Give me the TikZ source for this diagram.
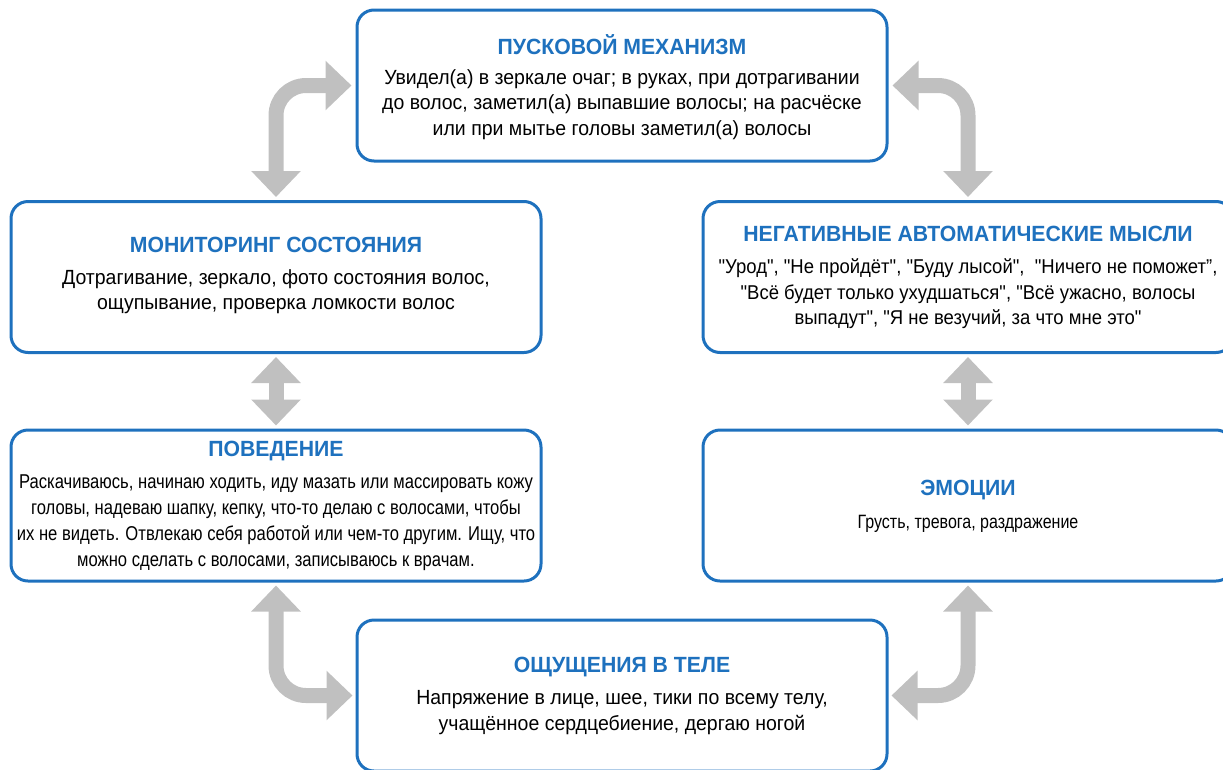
\documentclass[tikz,border=0pt]{standalone}
\usepackage{fontspec}
\setmainfont{Liberation Sans}[FakeStretch=0.95]
\newfontfamily\titlefont{Liberation Sans}[FakeStretch=0.965]
\newfontfamily\namfont{Liberation Sans}[FakeStretch=0.925]
\newfontfamily\condfont{Liberation Sans}[FakeStretch=0.83]
\usetikzlibrary{arrows.meta}
\definecolor{bblue}{RGB}{30,113,190}
\definecolor{agray}{RGB}{192,192,192}
\tikzset{
  box/.style={draw=bblue,line width=3pt,rounded corners=17pt,minimum width=530pt,minimum height=151pt,inner sep=0pt,fill=white},
  boxtitle/.style={text=bblue,font=\titlefont\fontsize{22}{26}\selectfont\bfseries,inner sep=0pt},
  boxtext/.style={text=black,font=\fontsize{20.5}{25.5}\selectfont,align=center,inner sep=0pt,anchor=north},
  namtextstyle/.style={text=black,font=\namfont\fontsize{20}{25.5}\selectfont,align=center,inner sep=0pt,anchor=north},
  emotextstyle/.style={text=black,font=\condfont\fontsize{19.3}{25.5}\selectfont,align=center,inner sep=0pt,anchor=north},
  condtext/.style={text=black,font=\condfont\fontsize{20}{26}\selectfont,align=center,inner sep=0pt,anchor=north},
  garrow/.style={draw=agray,line width=15pt,rounded corners=30pt,
    {Triangle[width=48pt,length=26pt]}-{Triangle[width=48pt,length=26pt]}}
}
\begin{document}
\begin{tikzpicture}[x=1pt,y=-1pt]
\useasboundingbox (0,0) rectangle (1223,769);
\clip (0,0) rectangle (1223,769);
% boxes
\node[box] (top) at (622,85.5) {};
\node[box] (mon) at (276,277) {};
\node[box] (nam) at (968,277) {};
\node[box] (beh) at (276,505.5) {};
\node[box] (emo) at (968,505.5) {};
\node[box] (body) at (622,695.5) {};
% titles and texts
\node[boxtitle] (toptitle) at (622,45) {ПУСКОВОЙ МЕХАНИЗМ};
\node[boxtext] (toptext) at (622,69.4) {Увидел(а) в зеркале очаг; в руках, при дотрагивании\\до волос, заметил(а) выпавшие волосы; на расчёске\\или при мытье головы заметил(а) волосы};
\node[boxtitle] (montitle) at (276,245) {МОНИТОРИНГ СОСТОЯНИЯ};
\node[boxtext] (montext) at (276,269.4) {Дотрагивание, зеркало, фото состояния волос,\\ощупывание, проверка ломкости волос};
\node[boxtitle] (namtitle) at (968,234) {НЕГАТИВНЫЕ АВТОМАТИЧЕСКИЕ МЫСЛИ};
\node[namtextstyle] (namtext) at (968,258.6) {"Урод", "Не пройдёт", "Буду лысой", \ "Ничего не поможет”,\\"Всё будет только ухудшаться", "Всё ужасно, волосы\\выпадут", "Я не везучий, за что мне это"};
\node[boxtitle] (behtitle) at (276,451) {ПОВЕДЕНИЕ};
\node[condtext] (behtext) at (276,474.6) {Раскачиваюсь, начинаю ходить, иду мазать или массировать кожу\\головы, надеваю шапку, кепку, что-то делаю с волосами, чтобы\\их не видеть. Отвлекаю себя работой или чем-то другим. Ищу, что\\можно сделать с волосами, записываюсь к врачам.};
\node[boxtitle] (emotitle) at (968,490) {ЭМОЦИИ};
\node[emotextstyle] (emotext) at (968,514.9) {Грусть, тревога, раздражение};
\node[boxtitle] (bodytitle) at (622,667) {ОЩУЩЕНИЯ В ТЕЛЕ};
\node[boxtext] (bodytext) at (622,690.4) {Напряжение в лице, шее, тики по всему телу,\\учащённое сердцебиение, дергаю ногой};
% arrows
\draw[garrow] ([xshift=-4pt]top.west) -| ([yshift=3pt]mon.north);
\draw[garrow] ([xshift=4pt]top.east) -| ([yshift=3pt]nam.north);
\draw[garrow] ([yshift=-3pt]mon.south) -- ([yshift=3pt]beh.north);
\draw[garrow] ([yshift=-3pt]nam.south) -- ([yshift=3pt]emo.north);
\draw[garrow] ([yshift=-3pt]beh.south) |- ([xshift=-3pt]body.west);
\draw[garrow] ([yshift=-3pt]emo.south) |- ([xshift=3pt]body.east);
\end{tikzpicture}
\end{document}
